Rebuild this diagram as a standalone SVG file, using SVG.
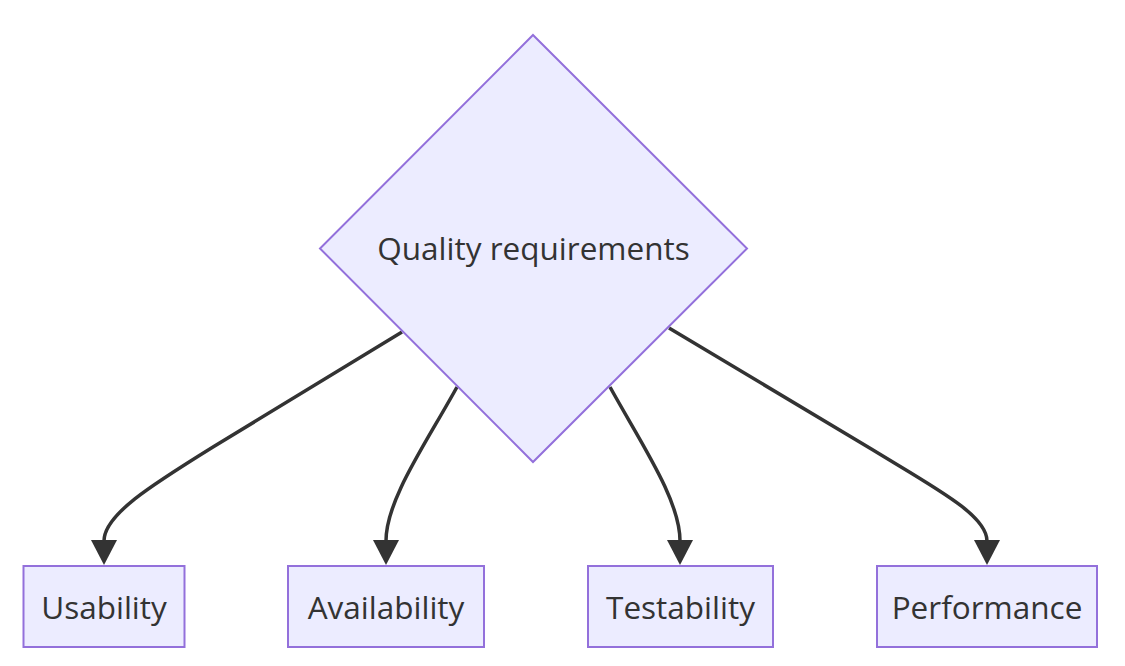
<svg xmlns="http://www.w3.org/2000/svg" width="1125" height="666" viewBox="0 0 1125 666">
  <style>
    .node rect, .node polygon { fill: #ECECFF; stroke: #9370DB; stroke-width: 2; }
    .label { font-family: "Open Sans", "Liberation Sans", sans-serif; font-size: 31.5px; fill: #333333; text-anchor: middle; }
    .edge { fill: none; stroke: #333333; stroke-width: 3.5; marker-end: url(#arrow); }
  </style>
  <defs>
    <marker id="arrow" markerUnits="userSpaceOnUse" viewBox="0 0 26 26" markerWidth="26" markerHeight="26" refX="1" refY="13" orient="auto">
      <path d="M0,0 L25,13 L0,26 z" fill="#333333"/>
    </marker>
  </defs>
  <rect x="0" y="0" width="1125" height="666" fill="#ffffff"/>
  <g id="connectors">
    <path class="edge" d="M402,332 L213,447 C150,486 104,515 104,541"/>
    <path class="edge" d="M457,387 C425,445 386,500 386,541"/>
    <path class="edge" d="M610,387 C642,445 680,500 680,541"/>
    <path class="edge" d="M669,328 L873,450 C935,488 987,515 987,541"/>
  </g>
  <g id="quality" class="node">
    <polygon points="533,35 747,248.5 533,462 320,248.5"/>
    <text class="label" x="533.5" y="260">Quality requirements</text>
  </g>
  <g id="usability" class="node">
    <rect x="23.5" y="566" width="161" height="81"/>
    <text class="label" x="104" y="618.5">Usability</text>
  </g>
  <g id="availability" class="node">
    <rect x="288" y="566" width="196" height="81"/>
    <text class="label" x="386" y="618.5">Availability</text>
  </g>
  <g id="testability" class="node">
    <rect x="588" y="566" width="185" height="81"/>
    <text class="label" x="680.5" y="618.5">Testability</text>
  </g>
  <g id="performance" class="node">
    <rect x="877" y="566" width="220" height="81"/>
    <text class="label" x="987" y="618.5">Performance</text>
  </g>
</svg>
